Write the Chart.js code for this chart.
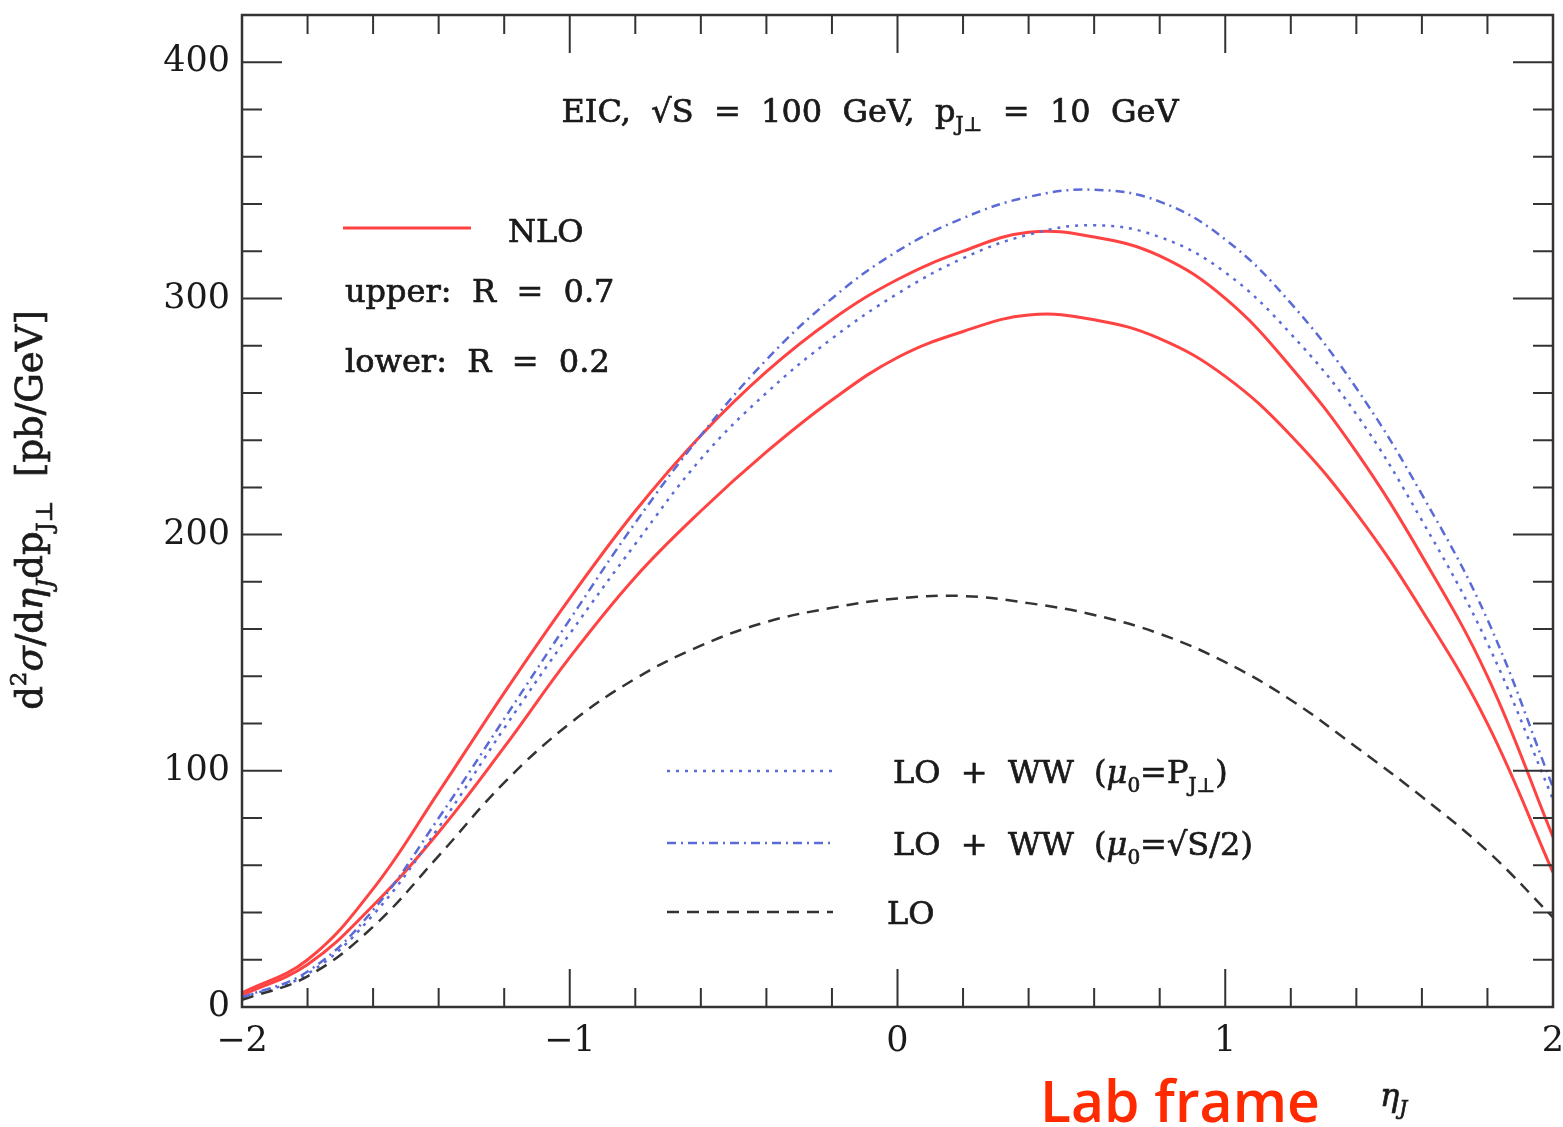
<!DOCTYPE html>
<html>
<head>
<meta charset="utf-8">
<script src="https://cdn.jsdelivr.net/npm/chart.js@4.4.0/dist/chart.umd.min.js"></script>
<style>
  html, body { margin: 0; padding: 0; background: #fff; }
  #wrap { width: 1563px; height: 1127px; position: relative; }
</style>
</head>
<body>
<div id="wrap"><canvas id="chart"></canvas></div>
<script>
// ---- data (eta_J every 0.2) ----
const eta = [-2, -1.8, -1.6, -1.4, -1.2, -1, -0.8, -0.6, -0.4, -0.2, 0, 0.2, 0.4, 0.6, 0.8, 1, 1.2, 1.4, 1.6, 1.8, 2];

// NLO, R = 0.7 (upper red)
const nloUpper = [6, 20, 50, 91, 133, 173, 210, 242, 269, 291, 308, 320, 328, 326, 318, 300, 271, 235, 191, 140, 72];
// NLO, R = 0.2 (lower red)
const nloLower = [5, 18, 43, 74, 110, 148, 182, 210, 235, 257, 275, 286, 293, 291, 283, 267, 242, 209, 168, 120, 57];
// LO + WW, mu0 = P_J
const wwPt = [4, 14, 39, 76, 118, 158, 196, 232, 260, 283, 302, 317, 327, 331, 326, 311, 285, 251, 206, 154, 88];
// LO + WW, mu0 = sqrt(S)/2
const wwHalfS = [4, 15, 41, 80, 122, 164, 205, 242, 274, 300, 320, 334, 343, 346, 341, 325, 298, 262, 217, 164, 93];
// LO
const lo = [3, 13, 34, 64, 95, 120, 139, 153, 163, 169, 173, 174, 171, 166, 158, 146, 130, 110, 89, 66, 38];

const xTicks = [-2, -1, 0, 1, 2];
const yTicks = [0, 100, 200, 300, 400];

// ---- helpers ----
const FAM = '"DejaVu Serif", serif';
const INK = '#1a1a1a';

function pts(ys) {
  return eta.map((x, i) => ({ x: x, y: ys[i] }));
}

function fontFor(kind, size) {
  if (kind === 'sub' || kind === 'sup') return Math.round(size * 0.62) + 'px ' + FAM;
  if (kind === 'isub') return 'italic ' + Math.round(size * 0.62) + 'px ' + FAM;
  if (kind === 'i') return 'italic ' + size + 'px ' + FAM;
  return size + 'px ' + FAM;
}

// draws text made of [string, kind] parts, baseline at y
// (a thin stroke makes it a little heavier, like the original print)
function richText(ctx, x, y, parts, size, align) {
  let total = 0;
  parts.forEach(p => { ctx.font = fontFor(p[1], size); total += ctx.measureText(p[0]).width; });
  let cx = align === 'center' ? x - total / 2 : x;
  ctx.textAlign = 'left';
  ctx.textBaseline = 'alphabetic';
  ctx.strokeStyle = ctx.fillStyle;
  ctx.lineWidth = 0.7;
  ctx.setLineDash([]);
  parts.forEach(p => {
    ctx.font = fontFor(p[1], size);
    let dy = 0;
    if (p[1] === 'sub' || p[1] === 'isub') dy = size * 0.28;
    if (p[1] === 'sup') dy = -size * 0.42;
    ctx.fillText(p[0], cx, y + dy);
    ctx.strokeText(p[0], cx, y + dy);
    cx += ctx.measureText(p[0]).width;
  });
}

// ---- frame with inward ticks on all four sides ----
const framePlugin = {
  id: 'frame',
  afterDatasetsDraw(chart) {
    const { ctx, chartArea: a, scales: { x, y } } = chart;
    ctx.save();
    ctx.strokeStyle = '#333';
    ctx.lineWidth = 2.5;
    ctx.strokeRect(a.left, a.top, a.right - a.left, a.bottom - a.top);
    ctx.lineWidth = 2;
    // x ticks, every 0.2 minor, every 1 major
    for (let k = -10; k <= 10; k++) {
      const px = x.getPixelForValue(k / 5);
      const len = k % 5 === 0 ? 38 : 19;
      ctx.beginPath();
      ctx.moveTo(px, a.bottom); ctx.lineTo(px, a.bottom - len);
      ctx.moveTo(px, a.top); ctx.lineTo(px, a.top + len);
      ctx.stroke();
    }
    // y ticks, every 20 minor, every 100 major
    for (let v = 0; v <= 420; v += 20) {
      const py = y.getPixelForValue(v);
      const len = v % 100 === 0 ? 40 : 20;
      ctx.beginPath();
      ctx.moveTo(a.left, py); ctx.lineTo(a.left + len, py);
      ctx.moveTo(a.right, py); ctx.lineTo(a.right - len, py);
      ctx.stroke();
    }
    ctx.restore();
  }
};

// ---- texts: title, legends, axis titles ----
const textPlugin = {
  id: 'texts',
  afterDraw(chart) {
    const ctx = chart.ctx;
    ctx.save();
    ctx.fillStyle = INK;

    richText(ctx, 870, 122, [['EIC,  \u221AS  =  100  GeV,  p', 'n'], ['J\u22A5', 'sub'], ['  =  10  GeV', 'n']], 32, 'center');

    // upper-left legend
    ctx.strokeStyle = '#ff4343';
    ctx.lineWidth = 3;
    ctx.setLineDash([]);
    ctx.beginPath(); ctx.moveTo(343, 228); ctx.lineTo(471, 228); ctx.stroke();
    richText(ctx, 508, 242, [['NLO', 'n']], 32, 'left');
    richText(ctx, 345, 302, [['upper:  R  =  0.7', 'n']], 32, 'left');
    richText(ctx, 345, 372, [['lower:  R  =  0.2', 'n']], 32, 'left');

    // lower-right legend
    const rows = [
      { y: 771, color: '#5b6bd6', dash: [3, 6], parts: [['LO  +  WW  (', 'n'], ['\u03BC', 'i'], ['0', 'sub'], ['=P', 'n'], ['J\u22A5', 'sub'], [')', 'n']], tx: 893 },
      { y: 843, color: '#5b6bd6', dash: [9, 5, 2, 5], parts: [['LO  +  WW  (', 'n'], ['\u03BC', 'i'], ['0', 'sub'], ['=\u221AS/2)', 'n']], tx: 893 },
      { y: 912, color: '#333', dash: [12, 8], parts: [['LO', 'n']], tx: 887 }
    ];
    rows.forEach(r => {
      ctx.strokeStyle = r.color;
      ctx.lineWidth = 2.5;
      ctx.setLineDash(r.dash);
      ctx.beginPath(); ctx.moveTo(667, r.y); ctx.lineTo(833, r.y); ctx.stroke();
      ctx.setLineDash([]);
      ctx.fillStyle = INK;
      richText(ctx, r.tx, r.y + 12, r.parts, 32, 'left');
    });

    // y axis title, rotated
    ctx.save();
    ctx.translate(42, 510);
    ctx.rotate(-Math.PI / 2);
    richText(ctx, 0, 0, [['d', 'n'], ['2', 'sup'], ['\u03C3', 'i'], ['/d', 'n'], ['\u03B7', 'i'], ['J', 'isub'], ['dp', 'n'], ['J\u22A5', 'sub'], ['  [pb/GeV]', 'n']], 37, 'center');
    ctx.restore();

    // x axis title
    richText(ctx, 1380, 1106, [['\u03B7', 'i'], ['J', 'isub']], 32, 'left');

    // red note
    ctx.fillStyle = '#ff2a00';
    ctx.font = '600 57px "Open Sans", Lato, sans-serif';
    ctx.textAlign = 'left';
    ctx.fillText('Lab frame', 1040, 1122);
    ctx.restore();
  }
};

const ds = (label, ys, color, dash, width) => ({
  label: label,
  data: pts(ys),
  borderColor: color,
  borderWidth: width,
  borderDash: dash,
  pointRadius: 0,
  tension: 0.4,
  fill: false
});

new Chart(document.getElementById('chart'), {
  type: 'line',
  data: {
    datasets: [
      ds('LO', lo, '#333', [12, 8], 2.5),
      ds('LO + WW (mu0=sqrt(S)/2)', wwHalfS, '#5b6bd6', [9, 5, 2, 5], 2.5),
      ds('LO + WW (mu0=PJ)', wwPt, '#5b6bd6', [3, 6], 2.5),
      ds('NLO R=0.2', nloLower, '#ff4343', [], 3),
      ds('NLO R=0.7', nloUpper, '#ff4343', [], 3)
    ]
  },
  options: {
    responsive: true,
    maintainAspectRatio: false,
    animation: false,
    layout: { padding: { top: 15, right: 10, left: 0, bottom: 0 } },
    plugins: { legend: { display: false }, tooltip: { enabled: false } },
    scales: {
      x: {
        type: 'linear',
        min: -2, max: 2,
        afterFit: s => { s.height = 120; s.paddingLeft = 0; s.paddingRight = 0; },
        afterBuildTicks: s => { s.ticks = xTicks.map(v => ({ value: v })); },
        grid: { display: false, drawTicks: false },
        border: { display: false },
        ticks: {
          padding: 14,
          color: INK,
          font: { family: 'DejaVu Serif', size: 35 },
          maxRotation: 0,
          autoSkip: false,
          callback: v => (v < 0 ? '\u2212' + Math.abs(v) : String(v))
        }
      },
      y: {
        type: 'linear',
        min: 0, max: 420,
        afterFit: s => { s.width = 242; s.paddingTop = 0; s.paddingBottom = 0; },
        afterBuildTicks: s => { s.ticks = yTicks.map(v => ({ value: v })); },
        grid: { display: false, drawTicks: false },
        border: { display: false },
        ticks: {
          padding: 12,
          color: INK,
          font: { family: 'DejaVu Serif', size: 35 },
          autoSkip: false
        }
      }
    }
  },
  plugins: [framePlugin, textPlugin]
});
</script>
</body>
</html>
